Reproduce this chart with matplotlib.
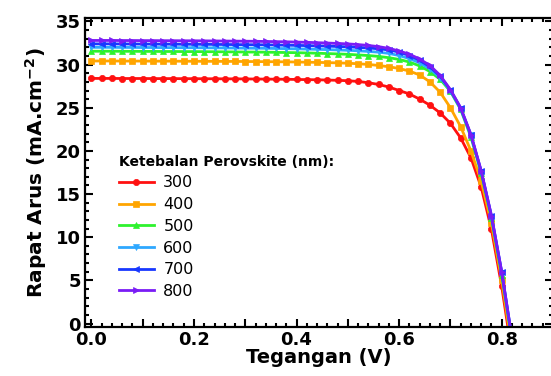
import matplotlib
matplotlib.use("Agg")
import matplotlib.pyplot as plt
from matplotlib.ticker import MultipleLocator, FuncFormatter

# voltage grid (V)
voltage = [0.00, 0.02, 0.04, 0.06, 0.08, 0.10, 0.12, 0.14, 0.16, 0.18, 0.20,
           0.22, 0.24, 0.26, 0.28, 0.30, 0.32, 0.34, 0.36, 0.38, 0.40, 0.42,
           0.44, 0.46, 0.48, 0.50, 0.52, 0.54, 0.56, 0.58, 0.60, 0.62, 0.64,
           0.66, 0.68, 0.70, 0.72, 0.74, 0.76, 0.78, 0.80, 0.82]

# current density (mA/cm2) per perovskite thickness
j_300 = [28.40, 28.40, 28.40, 28.39, 28.39, 28.39, 28.38, 28.38, 28.38, 28.37, 28.37,
         28.36, 28.36, 28.35, 28.35, 28.34, 28.33, 28.32, 28.31, 28.30, 28.28, 28.26,
         28.24, 28.21, 28.18, 28.13, 28.05, 27.90, 27.70, 27.40, 27.00, 26.60, 26.00,
         25.30, 24.40, 23.20, 21.50, 19.20, 15.80, 10.90, 4.30, -3.50]
j_400 = [30.42, 30.42, 30.42, 30.41, 30.41, 30.41, 30.40, 30.40, 30.40, 30.39, 30.39,
         30.38, 30.38, 30.37, 30.37, 30.36, 30.35, 30.34, 30.33, 30.32, 30.30, 30.28,
         30.26, 30.23, 30.20, 30.16, 30.10, 30.02, 29.90, 29.75, 29.55, 29.25, 28.80,
         28.00, 26.80, 25.00, 22.80, 20.00, 16.50, 11.60, 5.00, -2.80]
j_500 = [31.55, 31.55, 31.55, 31.54, 31.54, 31.53, 31.53, 31.52, 31.52, 31.51, 31.51,
         31.50, 31.49, 31.48, 31.47, 31.46, 31.45, 31.44, 31.42, 31.40, 31.38, 31.35,
         31.32, 31.28, 31.24, 31.19, 31.12, 31.05, 30.95, 30.80, 30.60, 30.30, 29.85,
         29.20, 28.30, 26.90, 24.80, 21.60, 17.40, 12.20, 5.60, -2.00]
j_600 = [32.00, 32.00, 32.00, 31.99, 31.99, 31.98, 31.98, 31.97, 31.97, 31.96, 31.96,
         31.95, 31.94, 31.93, 31.92, 31.91, 31.90, 31.89, 31.87, 31.85, 31.83, 31.80,
         31.77, 31.74, 31.70, 31.66, 31.60, 31.53, 31.44, 31.30, 31.05, 30.70, 30.20,
         29.50, 28.50, 27.00, 24.90, 21.80, 17.60, 12.40, 5.90, -1.80]
j_700 = [32.40, 32.40, 32.40, 32.39, 32.39, 32.38, 32.38, 32.37, 32.37, 32.36, 32.36,
         32.35, 32.34, 32.33, 32.32, 32.31, 32.30, 32.29, 32.27, 32.25, 32.23, 32.20,
         32.17, 32.14, 32.10, 32.06, 32.00, 31.93, 31.83, 31.70, 31.45, 31.05, 30.50,
         29.75, 28.65, 27.05, 24.95, 21.85, 17.65, 12.45, 5.95, -1.70]
j_800 = [32.80, 32.80, 32.80, 32.79, 32.79, 32.78, 32.78, 32.77, 32.77, 32.76, 32.76,
         32.75, 32.74, 32.73, 32.72, 32.71, 32.70, 32.68, 32.66, 32.64, 32.61, 32.58,
         32.54, 32.50, 32.45, 32.40, 32.32, 32.22, 32.08, 31.88, 31.58, 31.20, 30.65,
         29.90, 28.75, 27.10, 25.00, 21.90, 17.70, 12.50, 6.00, -1.70]

labels = ["300", "400", "500", "600", "700", "800"]
series = [j_300, j_400, j_500, j_600, j_700, j_800]
colors = ["#ff1010", "#ffa500", "#2ef22e", "#2fa8ff", "#1838ff", "#7a1cf5"]
markers = ["o", "s", "^", "v", "<", ">"]

plt.rcParams['font.family'] = ['DejaVu Sans']

fig = plt.figure(figsize=(5.51, 3.76), dpi=100)
ax = fig.add_axes([85 / 551, 49 / 376, 468 / 551, 309 / 376])

for lab, j, c, m in zip(labels, series, colors, markers):
    ax.plot(voltage, j, color=c, marker=m, markersize=4.5, linewidth=2.0,
            markeredgewidth=0.5, label=lab)

ax.set_xlim(-0.0125, 0.9)
ax.set_ylim(-0.4, 35.4)

ax.xaxis.set_major_locator(MultipleLocator(0.1))
ax.xaxis.set_minor_locator(MultipleLocator(0.02))
ax.yaxis.set_major_locator(MultipleLocator(5))
ax.yaxis.set_minor_locator(MultipleLocator(1))
ax.xaxis.set_major_formatter(FuncFormatter(
    lambda v, p: "%.1f" % v if round(v * 10) % 2 == 0 else ""))

ax.tick_params(which='both', direction='in', top=True, right=True, width=1.5)
ax.tick_params(which='major', length=6, labelsize=13, pad=3)
ax.tick_params(which='minor', length=3)
for lbl in ax.get_xticklabels() + ax.get_yticklabels():
    lbl.set_fontweight('bold')
for s in ax.spines.values():
    s.set_linewidth(1.6)

ax.set_xlabel("Tegangan (V)", fontsize=14, fontweight='bold', labelpad=-1)
ax.set_ylabel("Rapat Arus (mA.cm$^{\\mathbf{-2}}$)", fontsize=14.5, fontweight='bold', labelpad=5)

leg = ax.legend(title="Ketebalan Perovskite (nm):", loc='upper left',
                bbox_to_anchor=(0.058, 0.578), frameon=False, fontsize=11.5,
                handlelength=2.2, labelspacing=0.42, handletextpad=0.6,
                borderaxespad=0)
leg.get_title().set_fontweight('bold')
leg.get_title().set_fontsize(10)
leg._legend_box.align = "left"

fig.savefig("out.png", dpi=100)
